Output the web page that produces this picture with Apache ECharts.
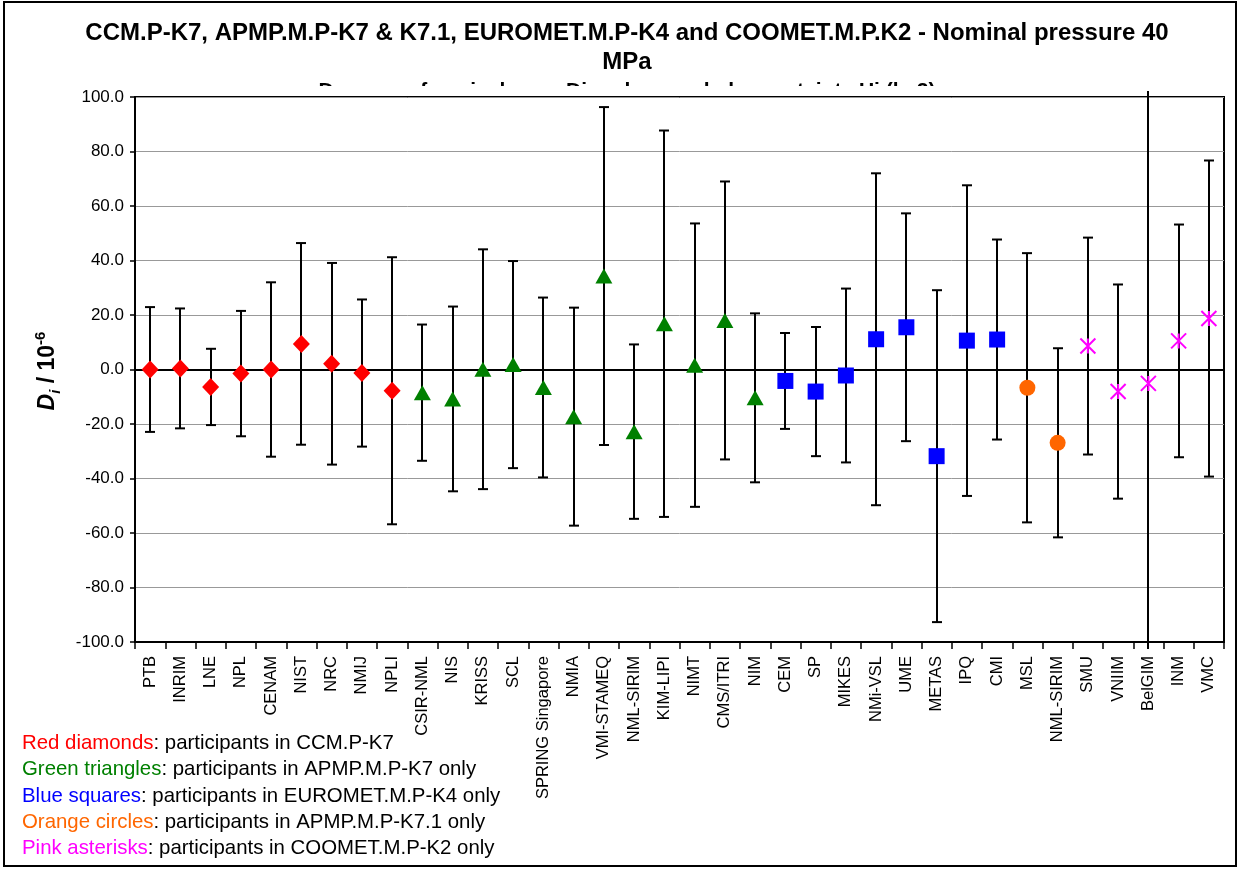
<!DOCTYPE html>
<html>
<head>
<meta charset="utf-8">
<script src="https://cdn.jsdelivr.net/npm/echarts@6/dist/echarts.min.js"></script>
<style>html,body{margin:0;padding:0;background:#fff}#c{width:1239px;height:869px}</style>
</head>
<body>
<div id="c"></div>
<script>
var categories = ['PTB','INRIM','LNE','NPL','CENAM','NIST','NRC','NMIJ','NPLI',
  'CSIR-NML','NIS','KRISS','SCL','SPRING Singapore','NMIA','VMI-STAMEQ','NML-SIRIM','KIM-LIPI','NIMT','CMS/ITRI','NIM',
  'CEM','SP','MIKES','NMi-VSL','UME','METAS','IPQ','CMI',
  'MSL','NML-SIRIM ',
  'SMU','VNIIM','BelGIM','INM','VMC'];
var groups = ['red','red','red','red','red','red','red','red','red',
  'green','green','green','green','green','green','green','green','green','green','green','green',
  'blue','blue','blue','blue','blue','blue','blue','blue',
  'orange','orange',
  'pink','pink','pink','pink','pink'];
var di = [0.0, 0.4, -6.4, -1.5, 0.0, 9.4, 2.1, -1.3, -7.8,
  -8.5, -10.8, 0.1, 1.8, -6.6, -17.3, 34.3, -22.8, 16.8, 1.6, 18.0, -10.4,
  -4.2, -8.1, -2.2, 11.1, 15.5, -31.8, 10.6, 11.0,
  -6.7, -26.9,
  8.6, -8.1, -5.1, 10.5, 18.7];
var u = [22.9, 22.0, 14.0, 23.0, 32.0, 37.0, 37.0, 27.0, 49.0,
  25.0, 33.9, 44.0, 38.0, 33.0, 40.0, 62.0, 32.0, 70.9, 52.0, 51.0, 31.0,
  17.6, 23.7, 31.9, 60.9, 41.8, 60.9, 57.0, 36.7,
  49.4, 34.7,
  39.8, 39.3, 300.0, 42.7, 58.0];
var yMin = -100, yMax = 100, yStep = 20;

var FONT = "'Liberation Sans', Arial, sans-serif";
var groupStyle = {
  red:    {name:'Red diamonds', color:'#FF0000', symbol:'diamond', size:[17,18]},
  green:  {name:'Green triangles', color:'#008000', symbol:'triangle', size:[17,15]},
  blue:   {name:'Blue squares', color:'#0000FF', symbol:'rect', size:[16,16]},
  orange: {name:'Orange circles', color:'#FF6600', symbol:'circle', size:[16,16]},
  pink:   {name:'Pink asterisks', color:'#FF00FF', symbol:'path://M0,0L10,10M10,0L0,10M5,0L5,10', size:[15,15]}
};
var groupOrder = ['red','green','blue','orange','pink'];
var legendTexts = {
  red: ': participants in CCM.P-K7',
  green: ': participants in APMP.M.P-K7 only',
  blue: ': participants in EUROMET.M.P-K4 only',
  orange: ': participants in APMP.M.P-K7.1 only',
  pink: ': participants in COOMET.M.P-K2 only'
};

var errData = categories.map(function(c, i){ return [i, di[i] - u[i], di[i] + u[i]]; });

var series = [];
series.push({
  type: 'custom',
  clip: false,
  z: 3,
  data: errData,
  encode: {x: 0, y: [1, 2]},
  renderItem: function(params, api){
    var i = api.value(0);
    var x = Math.round(api.coord([i, 0])[0]);
    var hi = api.coord([i, api.value(2)])[1];
    var lo = api.coord([i, api.value(1)])[1];
    var cs = params.coordSys;
    var top = cs.y - 6, bot = cs.y + cs.height + 7;
    var yH = Math.max(hi, top), yL = Math.min(lo, bot);
    var st = {stroke:'#000', lineWidth:2};
    var ch = [{type:'line', shape:{x1:x, y1:yH, x2:x, y2:yL}, style:st}];
    var hw = 5;
    if (hi >= cs.y - 0.5) ch.push({type:'line', shape:{x1:x-hw, y1:hi, x2:x+hw, y2:hi}, style:st});
    if (lo <= cs.y + cs.height + 0.5) ch.push({type:'line', shape:{x1:x-hw, y1:lo, x2:x+hw, y2:lo}, style:st});
    return {type:'group', children: ch};
  },
  markLine: {
    silent: true, symbol: 'none', label: {show:false},
    lineStyle: {color:'#000', width:2, type:'solid'},
    data: [{yAxis: 0}]
  }
});
groupOrder.forEach(function(g){
  var gs = groupStyle[g];
  var data = [];
  categories.forEach(function(c, i){ if (groups[i] === g) data.push([i, di[i]]); });
  var s = {
    type: 'scatter', name: gs.name, z: 5,
    symbol: gs.symbol, symbolSize: gs.size,
    data: data,
    itemStyle: {color: gs.color, opacity: 1}
  };
  if (g === 'pink') {
    s.itemStyle = {color: 'none', borderColor: gs.color, borderWidth: 2, opacity: 1};
  }
  series.push(s);
});

var graphics = [
  {type:'rect', z:-10, shape:{x:4, y:2, width:1232, height:864}, style:{fill:'#fff', stroke:'#000', lineWidth:2}},
  {type:'text', x:627, y:33, z:1, style:{text:'CCM.P-K7, APMP.M.P-K7 & K7.1, EUROMET.M.P-K4 and COOMET.M.P.K2 - Nominal pressure 40', font:'bold 24px ' + FONT, fill:'#000', align:'center', verticalAlign:'middle'}},
  {type:'text', x:627, y:62, z:1, style:{text:'MPa', font:'bold 24px ' + FONT, fill:'#000', align:'center', verticalAlign:'middle'}},
  {type:'text', x:627, y:81, z:-6, style:{text:'Degrees of equivalence: Di and expanded uncertainty Ui (k=2)', font:'bold 21px ' + FONT, fill:'#000', align:'center', verticalAlign:'top'}},
  {type:'rect', z:-5, shape:{x:137, y:86, width:1086, height:26}, style:{fill:'#fff'}},
  {type:'text', x:48, y:371, rotation:Math.PI/2, z:1, style:{
    text:'{a|D}{b|i}{c| / 10}{d|-6}', align:'center', verticalAlign:'middle', fill:'#000',
    rich:{
      a:{fontFamily:FONT, fontSize:23, fontWeight:'bold', fontStyle:'italic', lineHeight:30, verticalAlign:'middle'},
      b:{fontFamily:FONT, fontSize:15, fontWeight:'bold', fontStyle:'italic', lineHeight:30, verticalAlign:'bottom'},
      c:{fontFamily:FONT, fontSize:23, fontWeight:'bold', lineHeight:30, verticalAlign:'middle'},
      d:{fontFamily:FONT, fontSize:15, fontWeight:'bold', lineHeight:30, verticalAlign:'top'}
    }
  }}
];
var legendY = [743, 769, 796, 822, 848];
groupOrder.forEach(function(g, k){
  graphics.push({type:'text', x:22, y:legendY[k], z:1, style:{
    text:'{h|' + groupStyle[g].name + '}{t|' + legendTexts[g] + '}',
    align:'left', verticalAlign:'middle',
    rich:{
      h:{fontFamily:FONT, fontSize:20.4, fill:groupStyle[g].color, color:groupStyle[g].color},
      t:{fontFamily:FONT, fontSize:20.4, fill:'#000', color:'#000'}
    }
  }});
});

var chart = echarts.init(document.getElementById('c'), null, {renderer:'canvas'});
chart.setOption({
  animation: false,
  backgroundColor: '#fff',
  grid: {left:135, top:97, width:1089, height:545, show:true, borderColor:'#000', borderWidth:2, backgroundColor:'transparent', containLabel:false},
  xAxis: {
    type: 'category', data: categories, boundaryGap: true,
    axisLine: {show:true, onZero:false, lineStyle:{color:'#000', width:2}},
    axisTick: {show:true, interval:0, length:7, inside:false, lineStyle:{color:'#000', width:1.5}},
    axisLabel: {interval:0, rotate:90, margin:14, fontSize:16.5, fontFamily:FONT, color:'#000',
      formatter: function(v){ return v.trim(); }},
    splitLine: {show:false}
  },
  yAxis: {
    type: 'value', min: yMin, max: yMax, interval: yStep,
    axisLine: {show:true, lineStyle:{color:'#000', width:2}},
    axisTick: {show:true, length:5, lineStyle:{color:'#000', width:1.5}},
    axisLabel: {fontSize:17, fontFamily:FONT, color:'#000', margin:11,
      formatter: function(v){ return v.toFixed(1); }},
    splitLine: {show:true, lineStyle:{color:'#999', width:1}}
  },
  graphic: graphics,
  series: series
});
</script>
</body>
</html>
